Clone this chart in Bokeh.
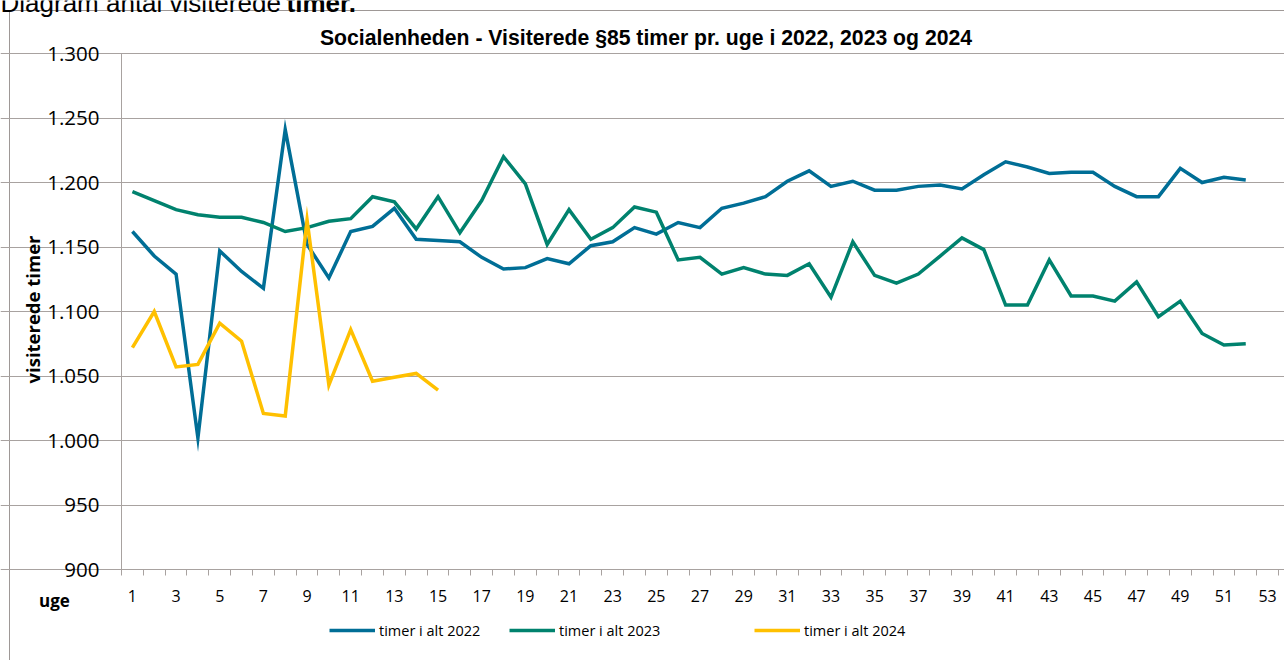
from bokeh.plotting import figure
from bokeh.models import FixedTicker, Range1d, Legend, LegendItem, Label
from bokeh.embed import file_html
from bokeh.resources import INLINE
import math

weeks_2022 = list(range(1, 53))
timer_2022 = [1162, 1143, 1129, 1002, 1147, 1131, 1118, 1241, 1152, 1126,
              1162, 1166, 1180, 1156, 1155, 1154, 1142, 1133, 1134, 1141,
              1137, 1151, 1154, 1165, 1160, 1169, 1165, 1180, 1184, 1189,
              1201, 1209, 1197, 1201, 1194, 1194, 1197, 1198, 1195, 1206,
              1216, 1212, 1207, 1208, 1208, 1197, 1189, 1189, 1211, 1200,
              1204, 1202]
weeks_2023 = list(range(1, 53))
timer_2023 = [1193, 1186, 1179, 1175, 1173, 1173, 1169, 1162, 1165, 1170,
              1172, 1189, 1185, 1164, 1189, 1161, 1186, 1220, 1199, 1152,
              1179, 1156, 1165, 1181, 1177, 1140, 1142, 1129, 1134, 1129,
              1128, 1137, 1111, 1154, 1128, 1122, 1129, 1143, 1157, 1148,
              1105, 1105, 1140, 1112, 1112, 1108, 1123, 1096, 1108, 1083,
              1074, 1075]
weeks_2024 = list(range(1, 16))
timer_2024 = [1072, 1100, 1057, 1059, 1091, 1077, 1021, 1019, 1171, 1043,
              1086, 1046, 1049, 1052, 1039]

y_ticks = [900, 950, 1000, 1050, 1100, 1150, 1200, 1250, 1300]
x_ticks = list(range(1, 54, 2))

title_text = "Socialenheden - Visiterede §85 timer pr. uge i 2022, 2023 og 2024"
heading_text = "Diagram antal visiterede "
heading_bold = "timer."
series = [("timer i alt 2022", weeks_2022, timer_2022, "#006e96"),
          ("timer i alt 2023", weeks_2023, timer_2023, "#00826e"),
          ("timer i alt 2024", weeks_2024, timer_2024, "#ffc000")]

GRID = "#a8a2a0"
W, H = 1284, 660
# plot area in page pixels: x 121..1278, y 53..569 (for weeks 0.5..53.5, values 900..1300)
X0, X1, YT, YB = 121, 1278, 53, 569
xs_per = (X1 - X0) / 53.0
ys_per = (YB - YT) / 400.0
x_lo = 0.5 - X0 / xs_per
x_hi = 53.5 + (W - X1) / xs_per
y_hi = 1300 + YT / ys_per
y_lo = 900 - (H - YB) / ys_per

p = figure(width=W, height=H, output_backend="svg", toolbar_location=None,
           x_range=Range1d(x_lo, x_hi), y_range=Range1d(y_lo, y_hi),
           min_border=0)
p.outline_line_color = None
p.background_fill_color = None
p.border_fill_color = None
p.styles = {"box-shadow": "inset 9px 10px 0 0 #ffffff, inset 10px 11px 0 0 #9e9896",
            "background-color": "#ffffff"}

renderers = []
for name, xs, ys, col in series:
    r = p.line(xs, ys, line_color=col, line_width=3.5, line_join="miter")
    renderers.append((name, r))

# axes placed at the plot-area edges
p.xgrid.grid_line_color = None
p.ygrid.grid_line_color = GRID
p.ygrid.grid_line_width = 1
p.ygrid.bounds = (0.5, 53.5)

p.yaxis.fixed_location = 0.5
p.yaxis.bounds = (900, 1300)
p.yaxis.ticker = FixedTicker(ticks=y_ticks)
p.yaxis.major_label_overrides = {v: f"{v:,}".replace(",", ".") for v in y_ticks}
p.yaxis.minor_tick_line_color = None
p.yaxis.major_tick_out = 8
p.yaxis.major_tick_in = 0
p.yaxis.major_tick_line_color = GRID
p.yaxis.axis_line_color = GRID
p.yaxis.major_label_standoff = 14
p.yaxis.major_label_text_font = "Open Sans"
p.yaxis.major_label_text_font_size = "20.5px"
p.yaxis.major_label_text_color = "#000000"

p.xaxis.fixed_location = 900
p.xaxis.bounds = (0.5, 53.5)
p.xaxis.ticker = FixedTicker(ticks=x_ticks, minor_ticks=[i + 0.5 for i in range(0, 54)])
p.xaxis.major_tick_line_color = None
p.xaxis.major_tick_out = 6
p.xaxis.major_tick_in = 0
p.xaxis.minor_tick_out = 6
p.xaxis.minor_tick_in = 0
p.xaxis.minor_tick_line_color = GRID
p.xaxis.axis_line_color = GRID
p.xaxis.major_label_standoff = 14
p.xaxis.major_label_text_font = "Open Sans"
p.xaxis.major_label_text_font_size = "16px"
p.xaxis.major_label_text_color = "#000000"


def lab(text, x, y_top, size, font="Open Sans", style="normal", align="center",
        baseline="middle", angle=0.0):
    p.add_layout(Label(x=x, y=H - y_top, x_units="screen", y_units="screen", text=text,
                       text_align=align, text_baseline=baseline, angle=angle,
                       text_font=font, text_font_style=style,
                       text_font_size=size, text_color="#000000"))


lab(title_text, 645.5, 37, "21.2px", font="Liberation Sans", style="bold")
lab("visiterede timer", 32, 309, "18.5px", style="bold", angle=math.pi / 2)
lab("uge", 54, 600, "17px", style="bold")
lab(heading_text, 0, 2, "26px", font="Liberation Sans", align="left", baseline="alphabetic")
lab(heading_bold, 286, 2, "26px", font="Liberation Sans", style="bold", align="left",
    baseline="alphabetic")

# legends, one per series, positioned below the axis
leg_x = [329, 509, 754]
for (name, r), lx in zip(renderers, leg_x):
    leg = Legend(items=[LegendItem(label=name, renderers=[r])], location=(lx, 20),
                 orientation="horizontal", padding=0, margin=0, spacing=0,
                 glyph_width=46, glyph_height=20, label_height=20, label_standoff=4,
                 label_text_font="Open Sans", label_text_font_size="14.5px",
                 label_text_color="#000000", border_line_color=None,
                 background_fill_alpha=0)
    p.add_layout(leg)

open("out.html", "w").write(file_html(p, INLINE))
